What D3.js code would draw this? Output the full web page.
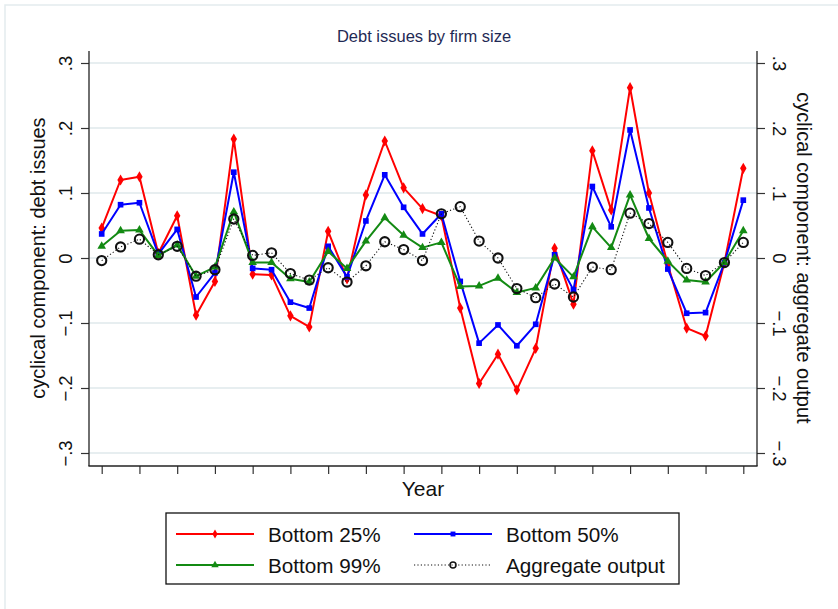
<!DOCTYPE html>
<html>
<head>
<meta charset="utf-8">
<script src="https://cdn.jsdelivr.net/npm/d3@7"></script>
<style>
  html, body { margin: 0; padding: 0; background: #ffffff; }
  svg { display: block; font-family: "Liberation Sans", Arial, Helvetica, sans-serif; }
</style>
</head>
<body>
<svg id="chart" width="838" height="609"></svg>
<script>
// Periods (years are unlabelled on the axis; ticks fall on every second period)
const periods = [0, 1, 2, 3, 4, 5, 6, 7, 8, 9, 10, 11, 12, 13, 14, 15, 16, 17,
                 18, 19, 20, 21, 22, 23, 24, 25, 26, 27, 28, 29, 30, 31, 32, 33, 34];

// Cyclical component of debt issues by firm-size group
const bottom25 = [0.046, 0.120, 0.125, 0.007, 0.065, -0.088, -0.036, 0.183, -0.025, -0.026,
                  -0.089, -0.106, 0.041, -0.032, 0.097, 0.180, 0.108, 0.076, 0.065, -0.077,
                  -0.193, -0.148, -0.203, -0.139, 0.015, -0.071, 0.165, 0.074, 0.262, 0.100,
                  -0.010, -0.108, -0.120, -0.007, 0.138];
const bottom50 = [0.037, 0.082, 0.085, 0.006, 0.044, -0.060, -0.023, 0.132, -0.016, -0.018,
                  -0.068, -0.077, 0.018, -0.029, 0.057, 0.128, 0.078, 0.037, 0.068, -0.036,
                  -0.131, -0.103, -0.135, -0.102, 0.005, -0.049, 0.110, 0.048, 0.197, 0.077,
                  -0.017, -0.085, -0.084, -0.007, 0.089];
const bottom99 = [0.018, 0.042, 0.043, 0.004, 0.020, -0.028, -0.014, 0.071, -0.007, -0.007,
                  -0.032, -0.037, 0.010, -0.016, 0.026, 0.062, 0.035, 0.016, 0.024, -0.044,
                  -0.043, -0.031, -0.053, -0.046, 0.000, -0.029, 0.048, 0.016, 0.097, 0.030,
                  -0.005, -0.034, -0.037, -0.007, 0.042];
// Cyclical component of aggregate output (right axis)
const aggregate = [-0.004, 0.017, 0.029, 0.005, 0.018, -0.028, -0.018, 0.060, 0.004, 0.008,
                   -0.024, -0.034, -0.015, -0.037, -0.012, 0.025, 0.013, -0.004, 0.068, 0.079,
                   0.026, 0.000, -0.047, -0.061, -0.040, -0.060, -0.014, -0.018, 0.069, 0.053,
                   0.024, -0.016, -0.027, -0.007, 0.024];

const yTickValues = [-0.3, -0.2, -0.1, 0, 0.1, 0.2, 0.3];
const yTickLabels = ["\u2212.3", "\u2212.2", "\u2212.1", "0", ".1", ".2", ".3"];

const seriesNames = ["Bottom 25%", "Bottom 50%", "Bottom 99%", "Aggregate output"];

const svg = d3.select("#chart");

// frame of the plot region
const frame = { left: 89, right: 757, top: 51, bottom: 466 };

// faint outer page border
svg.append("rect")
  .attr("x", 5).attr("y", 5).attr("width", 850).attr("height", 620)
  .attr("fill", "none").attr("stroke", "#e3ebee").attr("stroke-width", 1.5);

const x = d3.scaleLinear().domain([periods[0], periods[periods.length - 1]]).range([101.7, 743.3]);
const yL = d3.scaleLinear().domain([-0.3, 0.3]).range([453, 63]);
const yR = d3.scaleLinear().domain([-0.3, 0.3]).range([453, 63]);

// title
svg.append("text")
  .attr("x", 424).attr("y", 42)
  .attr("text-anchor", "middle")
  .attr("font-size", 16.5)
  .attr("fill", "#1f2a55")
  .text("Debt issues by firm size");

// gridlines
svg.append("g")
  .selectAll("line")
  .data(yTickValues)
  .join("line")
  .attr("x1", frame.left).attr("x2", frame.right)
  .attr("y1", d => yL(d)).attr("y2", d => yL(d))
  .attr("stroke", "#e7eef0").attr("stroke-width", 1.8);

// left axis
const tickLabel = d => yTickLabels[yTickValues.findIndex(v => Math.abs(v - d) < 1e-9)];
const gL = svg.append("g").attr("transform", `translate(${frame.left},0)`)
  .call(d3.axisLeft(yL).tickValues(yTickValues).tickFormat(tickLabel).tickSize(8).tickSizeOuter(0));
gL.select(".domain").remove();
gL.selectAll(".tick line").attr("stroke", "#333").attr("stroke-width", 1.2);
gL.selectAll(".tick text")
  .attr("x", null).attr("dy", null)
  .attr("transform", "translate(-17,0) rotate(-90)")
  .attr("text-anchor", "middle")
  .attr("font-size", 18.5)
  .attr("fill", "#111")
  .attr("font-family", "Liberation Sans, Arial, sans-serif");

// right axis
const gR = svg.append("g").attr("transform", `translate(${frame.right},0)`)
  .call(d3.axisRight(yR).tickValues(yTickValues).tickFormat(tickLabel).tickSize(8).tickSizeOuter(0));
gR.select(".domain").remove();
gR.selectAll(".tick line").attr("stroke", "#333").attr("stroke-width", 1.2);
gR.selectAll(".tick text")
  .attr("x", null).attr("dy", null)
  .attr("transform", "translate(16,0) rotate(90)")
  .attr("text-anchor", "middle")
  .attr("font-size", 18.5)
  .attr("fill", "#111")
  .attr("font-family", "Liberation Sans, Arial, sans-serif");

// bottom axis (ticks only, no labels)
const gB = svg.append("g").attr("transform", `translate(0,${frame.bottom})`)
  .call(d3.axisBottom(x).tickValues(periods.filter((d, i) => i % 2 === 0)).tickFormat("").tickSize(8).tickSizeOuter(0));
gB.select(".domain").remove();
gB.selectAll(".tick line").attr("stroke", "#333").attr("stroke-width", 1.2);

// axis lines
const axisStroke = "#222";
svg.append("line").attr("x1", frame.left).attr("x2", frame.left).attr("y1", frame.top).attr("y2", frame.bottom)
  .attr("stroke", axisStroke).attr("stroke-width", 1.3);
svg.append("line").attr("x1", frame.right).attr("x2", frame.right).attr("y1", frame.top).attr("y2", frame.bottom)
  .attr("stroke", axisStroke).attr("stroke-width", 1.3);
svg.append("line").attr("x1", frame.left - 0.6).attr("x2", frame.right + 0.6).attr("y1", frame.bottom).attr("y2", frame.bottom)
  .attr("stroke", axisStroke).attr("stroke-width", 1.3);

// axis titles
svg.append("text")
  .attr("transform", `translate(45,258) rotate(-90)`)
  .attr("text-anchor", "middle").attr("font-size", 20).attr("fill", "#111")
  .text("cyclical component: debt issues");
svg.append("text")
  .attr("transform", `translate(797,258) rotate(90)`)
  .attr("text-anchor", "middle").attr("font-size", 20).attr("fill", "#111")
  .text("cyclical component: aggregate output");
svg.append("text")
  .attr("x", 423).attr("y", 496)
  .attr("text-anchor", "middle").attr("font-size", 21).attr("fill", "#111")
  .text("Year");

// series
const series = [
  { name: seriesNames[0], values: bottom25, color: "#ff0000", scale: yL, width: 2, dash: null, marker: "diamond" },
  { name: seriesNames[1], values: bottom50, color: "#0000ff", scale: yL, width: 2, dash: null, marker: "square" },
  { name: seriesNames[2], values: bottom99, color: "#138a13", scale: yL, width: 2, dash: null, marker: "triangle" },
  { name: seriesNames[3], values: aggregate, color: "#111111", scale: yR, width: 1.1, dash: "1.2,2.2", marker: "circle" }
];

const symbolType = { diamond: d3.symbolDiamond, square: d3.symbolSquare, triangle: d3.symbolTriangle };

function drawMarker(g, kind, color, cx, cy, small) {
  if (kind === "circle") {
    g.append("circle").attr("cx", cx).attr("cy", cy).attr("r", small ? 3 : 4.6)
      .attr("fill", "none").attr("stroke", color).attr("stroke-width", small ? 1.5 : 2.1);
  } else {
    const sym = d3.symbol().type(symbolType[kind]).size(small ? 24 : (kind === "diamond" ? 36 : 32));
    g.append("path").attr("d", sym()).attr("transform", `translate(${cx},${cy})`).attr("fill", color);
  }
}

const plot = svg.append("g");
series.forEach(s => {
  const line = d3.line().x((d, i) => x(periods[i])).y(d => s.scale(d));
  plot.append("path")
    .datum(s.values)
    .attr("d", line)
    .attr("fill", "none")
    .attr("stroke", s.color)
    .attr("stroke-width", s.width)
    .attr("stroke-linejoin", "round")
    .attr("stroke-dasharray", s.dash);
  const mg = plot.append("g");
  s.values.forEach((v, i) => drawMarker(mg, s.marker, s.color, x(periods[i]), s.scale(v), false));
});

// legend
const lg = svg.append("g");
lg.append("rect").attr("x", 166).attr("y", 513).attr("width", 513).attr("height", 71)
  .attr("fill", "#fff").attr("stroke", "#111").attr("stroke-width", 1.3);
const legendPos = [
  { sx: 176, tx: 268, y: 534 },
  { sx: 414, tx: 506, y: 534 },
  { sx: 176, tx: 268, y: 565 },
  { sx: 414, tx: 506, y: 565 }
];
series.forEach((s, i) => {
  const p = legendPos[i];
  lg.append("line").attr("x1", p.sx).attr("x2", p.sx + 78).attr("y1", p.y).attr("y2", p.y)
    .attr("stroke", s.color).attr("stroke-width", s.marker === "circle" ? 1 : 2)
    .attr("stroke-dasharray", s.dash);
  drawMarker(lg, s.marker, s.color, p.sx + 39, p.y, true);
  lg.append("text").attr("x", p.tx).attr("y", p.y + 7.5)
    .attr("font-size", 20.7).attr("fill", "#111").text(s.name);
});
</script>
</body>
</html>
